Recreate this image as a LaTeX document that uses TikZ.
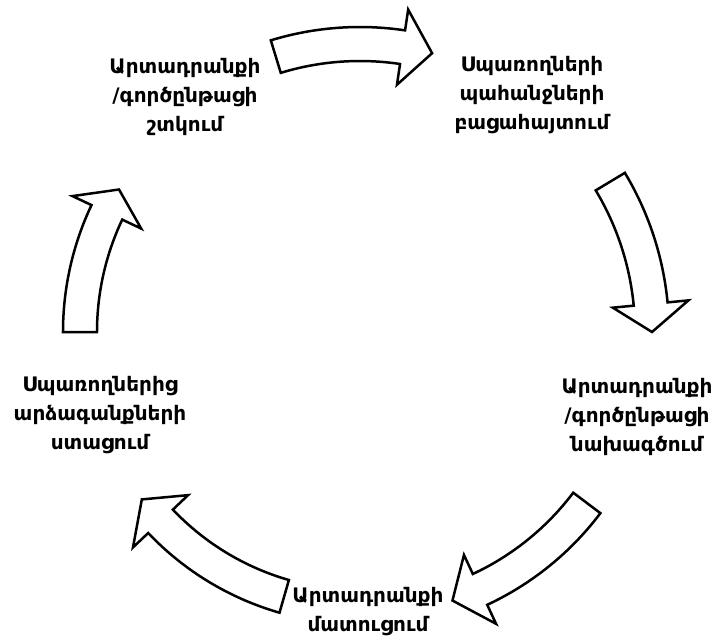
\documentclass[tikz,border=0pt]{standalone}
\usepackage{fontspec}
\setmainfont{DejaVu Sans}
\usetikzlibrary{positioning}

% radius, tail angle, head base angle, tip angle
\newcommand{\cyclearrow}[4]{%
  \draw[cyclearr] ({#2}:{#1+17}) arc[start angle=#2, end angle=#3, radius=#1+17]
    -- ({#3}:{#1+38}) -- ({#4}:{#1}) -- ({#3}:{#1-38}) -- ({#3}:{#1-17})
    arc[start angle=#3, end angle=#2, radius=#1-17] -- cycle;}

\begin{document}
\begin{tikzpicture}[x=1pt,y=1pt,
    cyclearr/.style={draw=black, fill=white, line width=2.5pt, line join=miter},
    steptext/.style={align=center, font=\fontsize{20}{29}\selectfont\bfseries}]
  \useasboundingbox (-360,-309) rectangle (359,332);

  \cyclearrow{288}{107}{81.5}{75.5}
  \cyclearrow{292}{31}{5.5}{0}
  \cyclearrow{284}{-37}{-65}{-71}
  \cyclearrow{275}{-106}{-136.5}{-142.5}
  \cyclearrow{280}{180}{154.7}{149.4}

  \node[steptext] (check) at (-175,235) {Արտադրանքի\\/գործընթացի\\շտկում};
  \node[steptext] (needs) at (172,237) {Սպառողների\\պահանջների\\բացահայտում};
  \node[steptext] (design) at (277,-85) {Արտադրանքի\\/գործընթացի\\նախագծում};
  \node[steptext] (build) at (8,-280) {Արտադրանքի\\մատուցում};
  \node[steptext] (feedback) at (-260,-83) {Սպառողներից\\արձագանքների\\ստացում};
\end{tikzpicture}
\end{document}
